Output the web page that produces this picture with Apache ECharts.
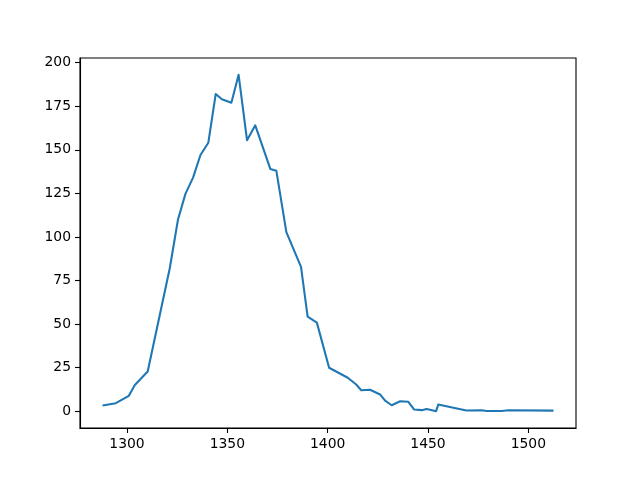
<!DOCTYPE html>
<html>
<head>
<meta charset="utf-8">
<script src="https://cdn.jsdelivr.net/npm/echarts@6/dist/echarts.min.js"></script>
<style>html,body{margin:0;padding:0;background:#fff}#c{width:640px;height:480px}</style>
</head>
<body>
<div id="c"></div>
<script>
var xValues = [1287.8,1294.4,1300.9,1303.9,1310.3,1321.3,1325.4,1329.1,1332.9,1336.6,
  1340.5,1344.2,1347.3,1352.0,1355.6,1359.8,1363.9,1371.4,1374.4,1379.4,
  1386.7,1390.0,1394.6,1400.7,1410.0,1414.2,1416.7,1421.1,1426.1,1428.6,
  1431.9,1436.1,1440.2,1443.0,1446.9,1449.3,1452.5,1454.0,1455.1,1462.6,
  1469.2,1476.7,1479.2,1486.7,1490.0,1512.5];
var yValues = [3.3,4.6,8.8,15,22.8,82,110,124.7,134,147,
  154,182,179,177,193,155.5,164,139,138,102.7,
  82.8,54.2,50.8,24.9,19.2,15.3,12,12.3,9.6,6.1,
  3.4,5.7,5.4,1,0.6,1.3,0.4,0,3.8,2,
  0.4,0.5,0.1,0.1,0.5,0.3];
var xTicks = [1300,1350,1400,1450,1500];
var yTicks = [0,25,50,75,100,125,150,175,200];

var xmin = Math.min.apply(null, xValues), xmax = Math.max.apply(null, xValues);
var ymin = Math.min.apply(null, yValues), ymax = Math.max.apply(null, yValues);
var xpad = (xmax - xmin) * 0.05, ypad = (ymax - ymin) * 0.05;
var data = xValues.map(function (x, i) { return [x, yValues[i]]; });

var font = {fontFamily: 'DejaVu Sans', fontSize: 13.9, color: '#000'};
var chart = echarts.init(document.getElementById('c'), null, {renderer: 'canvas'});
chart.setOption({
  animation: false,
  backgroundColor: '#fff',
  grid: {left: 80, right: 64, top: 58, bottom: 52, show: true, borderColor: '#000', borderWidth: 1.1, containLabel: false},
  xAxis: {
    type: 'value', min: xmin - xpad, max: xmax + xpad,
    axisLine: {show: true, onZero: false, lineStyle: {color: '#000', width: 1.1}},
    axisTick: {show: true, inside: false, length: 5, lineStyle: {color: '#000', width: 1.1}, customValues: xTicks},
    axisLabel: Object.assign({margin: 9, customValues: xTicks, formatter: function (v) { return String(v); }}, font),
    splitLine: {show: false}
  },
  yAxis: {
    type: 'value', min: ymin - ypad, max: ymax + ypad,
    axisLine: {show: true, onZero: false, lineStyle: {color: '#000', width: 1.1}},
    axisTick: {show: true, inside: false, length: 5, lineStyle: {color: '#000', width: 1.1}, customValues: yTicks},
    axisLabel: Object.assign({margin: 9, customValues: yTicks, formatter: function (v) { return String(v); }}, font),
    splitLine: {show: false}
  },
  series: [{
    type: 'line', data: data, showSymbol: false, symbol: 'none',
    lineStyle: {color: '#1f77b4', width: 2.08, join: 'round', cap: 'butt'}
  }]
});
</script>
</body>
</html>
